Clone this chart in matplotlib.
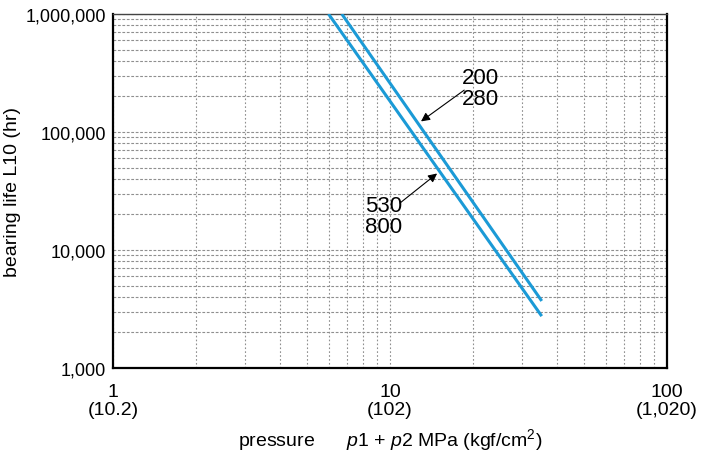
import matplotlib
matplotlib.use('Agg')
import matplotlib.pyplot as plt
from matplotlib.ticker import FixedLocator, NullFormatter, LogLocator

plt.rcParams['font.family'] = ['Liberation Sans', 'DejaVu Sans']
plt.rcParams['mathtext.fontset'] = 'custom'
plt.rcParams['mathtext.rm'] = 'Liberation Sans'
plt.rcParams['mathtext.it'] = 'Liberation Sans:italic'

# end points of the two straight life lines (log-log)
pressure_200_280 = [6.7, 35.3]
life_200_280 = [1000000, 3700]
pressure_530_800 = [6.0, 35.3]
life_530_800 = [1000000, 2750]

x_ticks = [1, 10, 100]
x_tick_labels = ['1\n(10.2)', '10\n(102)', '100\n(1,020)']
y_ticks = [1000, 10000, 100000, 1000000]
y_tick_labels = ['1,000', '10,000', '100,000', '1,000,000']

line_color = '#1b9ad6'
grid_color = '#8f8f8f'

fig = plt.figure(figsize=(7.03, 4.56), dpi=100)
ax = fig.add_axes([113/703, 1 - 369/456, 554/703, 354/456])

ax.set_xscale('log')
ax.set_yscale('log')
ax.set_xlim(1, 100)
ax.set_ylim(1000, 1000000)

ax.plot(pressure_200_280, life_200_280, color=line_color, lw=2.2, solid_capstyle='butt', zorder=3)
ax.plot(pressure_530_800, life_530_800, color=line_color, lw=2.2, solid_capstyle='butt', zorder=3)

ax.xaxis.set_major_locator(FixedLocator(x_ticks))
ax.set_xticklabels(x_tick_labels)
ax.yaxis.set_major_locator(FixedLocator(y_ticks))
ax.set_yticklabels(y_tick_labels)
ax.xaxis.set_minor_locator(LogLocator(base=10, subs=range(2, 10)))
ax.yaxis.set_minor_locator(LogLocator(base=10, subs=range(2, 10)))
ax.xaxis.set_minor_formatter(NullFormatter())
ax.yaxis.set_minor_formatter(NullFormatter())

ax.tick_params(which='both', length=0)
ax.tick_params(axis='x', pad=11, labelsize=14)
ax.tick_params(axis='y', pad=5, labelsize=13)
for lab in ax.get_xticklabels():
    lab.set_linespacing(1.05)

ax.xaxis.grid(True, which='both', color=grid_color, lw=0.8, linestyle=(0, (1.5, 2)))
ax.yaxis.grid(True, which='both', color=grid_color, lw=0.8, linestyle=(0, (2.5, 1.5)))
ax.set_axisbelow(True)

for side in ['left', 'bottom', 'right']:
    ax.spines[side].set_linewidth(1.6)
    ax.spines[side].set_color('black')
ax.spines['top'].set_linewidth(1.0)
ax.spines['top'].set_color('#444444')

ax.set_ylabel('bearing life L10 (hr)', fontsize=14, va='center')
ax.yaxis.set_label_coords(-0.181, 0.5)
ax.set_xlabel(r'pressure      $p$1 + $p$2 MPa (kgf/cm$^2$)', fontsize=14, labelpad=6)

ax.text(0.629, 0.792, '200\n280', transform=ax.transAxes, fontsize=16,
        ha='left', va='center', linespacing=1.0)
ax.annotate('', xy=(12.94, 123000), xycoords='data',
            xytext=(0.634, 0.785), textcoords='axes fraction',
            arrowprops=dict(arrowstyle='-|>', color='black', lw=0.8,
                            mutation_scale=13, shrinkA=0, shrinkB=0))

ax.text(0.455, 0.428, '530\n800', transform=ax.transAxes, fontsize=16,
        ha='left', va='center', linespacing=1.0)
ax.annotate('', xy=(14.79, 44500), xycoords='data',
            xytext=(0.518, 0.466), textcoords='axes fraction',
            arrowprops=dict(arrowstyle='-|>', color='black', lw=0.8,
                            mutation_scale=13, shrinkA=0, shrinkB=0))

fig.savefig('out.png', dpi=100)
